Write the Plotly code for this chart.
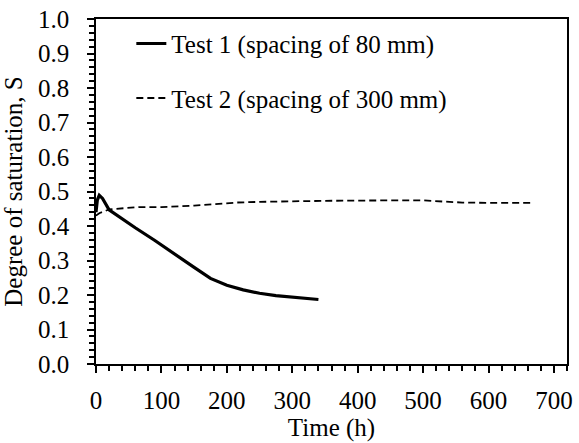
import plotly.graph_objects as go

# Test 1 (spacing of 80 mm)
t1 = [0, 2, 5, 10, 20, 40, 60, 90, 120, 150, 175, 200, 225, 250, 275, 300, 340]
s1 = [0.44, 0.475, 0.489, 0.48, 0.447, 0.42, 0.395, 0.358, 0.318, 0.28, 0.248, 0.228, 0.215, 0.205, 0.198, 0.193, 0.187]

# Test 2 (spacing of 300 mm)
t2 = [0, 5, 20, 40, 65, 100, 125, 150, 165, 190, 215, 250, 290, 350, 430, 500, 530, 560, 600, 665]
s2 = [0.43, 0.437, 0.448, 0.452, 0.455, 0.455, 0.456, 0.459, 0.461, 0.465, 0.468, 0.47, 0.472, 0.473, 0.474, 0.4745, 0.471, 0.468, 0.467, 0.467]

names = ["Test 1 (spacing of 80 mm)", "Test 2 (spacing of 300 mm)"]

FONT = "Liberation Serif"
FS = 25

fig = go.Figure()
fig.add_trace(go.Scatter(x=t1, y=s1, mode="lines", name=names[0], legendgroup="a",
                         line=dict(color="black", width=3.2)))
fig.add_trace(go.Scatter(x=t2, y=s2, mode="lines", name=names[1], legendgroup="b",
                         line=dict(color="black", width=1.8, dash="7px,4px")))

axis_common = dict(
    showline=True, linecolor="black", linewidth=1.5, mirror=True,
    ticks="outside", ticklen=7, tickwidth=1.5, tickcolor="black",
    showgrid=False, zeroline=False,
    tickfont=dict(family=FONT, size=FS, color="black"),
)

fig.update_layout(
    xaxis=dict(range=[0, 720], tickmode="linear", tick0=0, dtick=100,
               minor=dict(ticks="outside", ticklen=5, tickwidth=1.5, tickcolor="black",
                          dtick=20, tick0=0, showgrid=False),
               title=dict(text="Time (h)", font=dict(family=FONT, size=FS, color="black"), standoff=6),
               ticklabelstandoff=6, **axis_common),
    yaxis=dict(range=[0, 1.0], tickmode="linear", tick0=0, dtick=0.1, tickformat=".1f",
               minor=dict(ticks="outside", ticklen=5, tickwidth=1.5, tickcolor="black",
                          dtick=0.02, tick0=0, showgrid=False),
               title=dict(text="Degree of saturation, S", font=dict(family=FONT, size=FS, color="black"), standoff=8),
               ticklabelstandoff=13, **axis_common),
    width=579, height=443,
    margin=dict(l=96, r=6, t=15, b=76),
    paper_bgcolor="white", plot_bgcolor="white",
    font=dict(family=FONT, size=FS, color="black"),
    showlegend=True,
    legend=dict(x=0.075, y=0.995, xanchor="left", yanchor="top",
                bgcolor="rgba(0,0,0,0)", font=dict(family=FONT, size=FS, color="black"),
                traceorder="grouped", tracegroupgap=19, itemwidth=30),
)

fig.write_html("out.html")
